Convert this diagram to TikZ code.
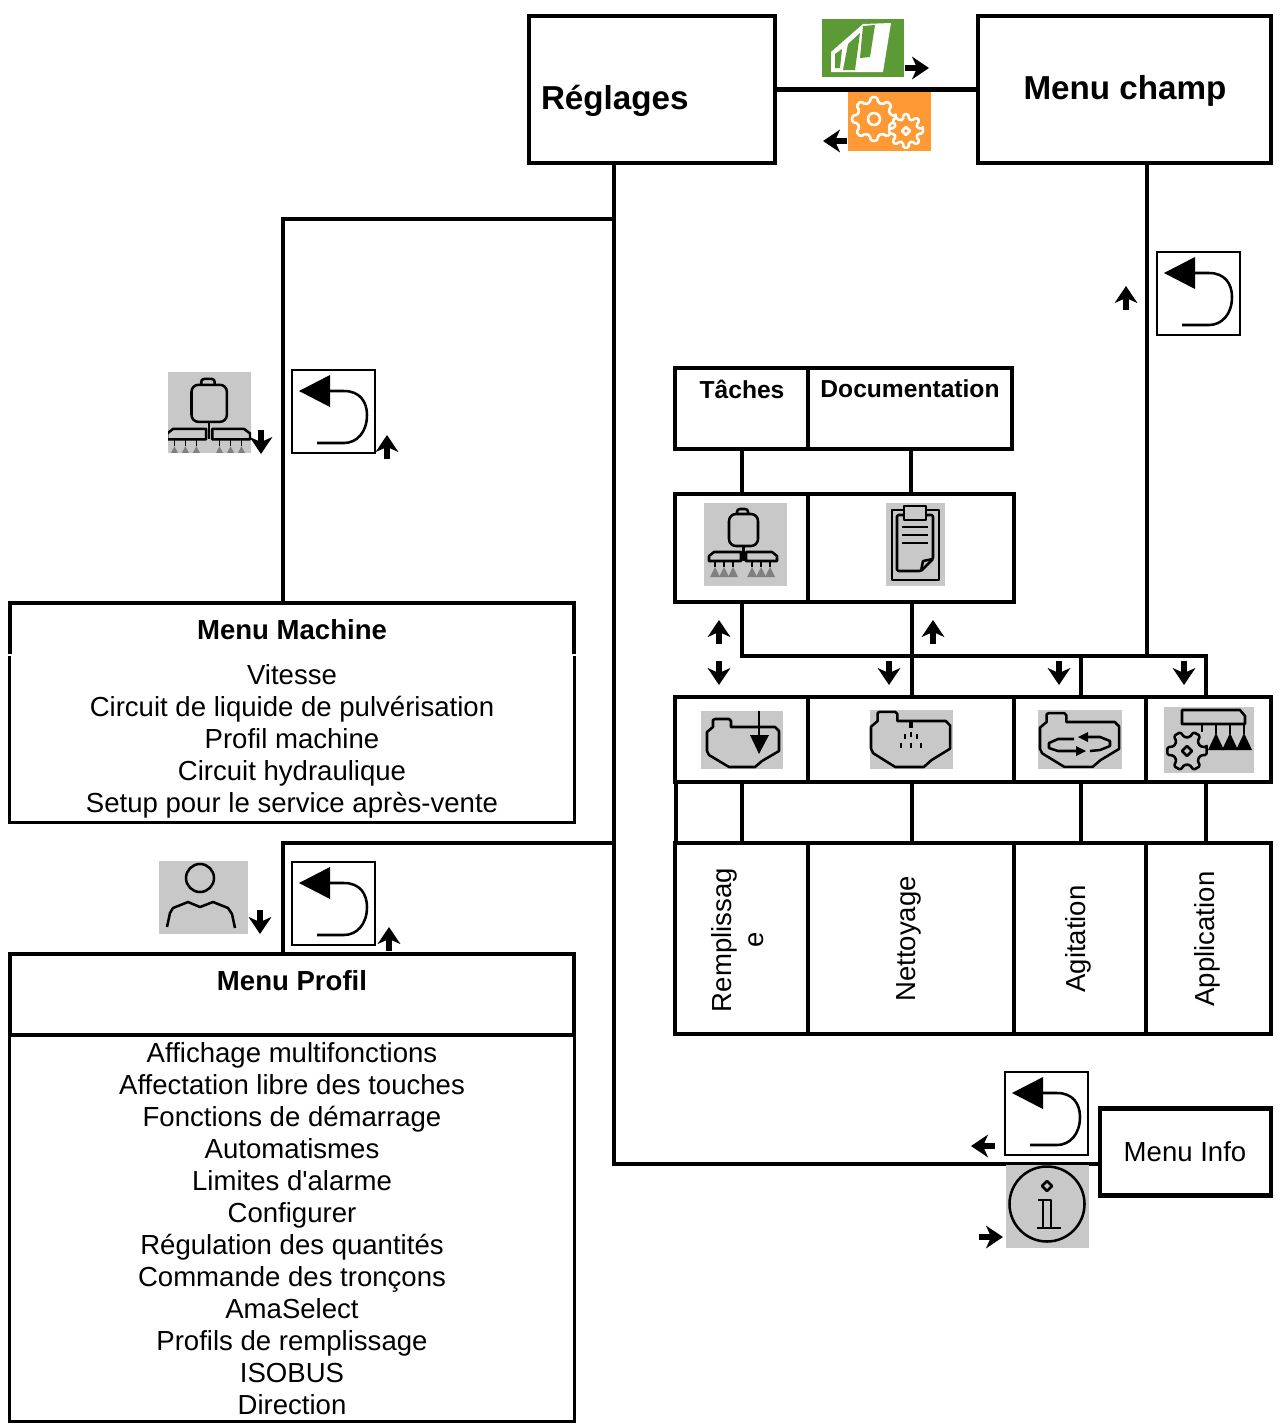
\documentclass[tikz,border=0pt]{standalone}
\usepackage{fontspec}
\setmainfont{Liberation Sans}[Ligatures=TeXOff]
\usetikzlibrary{arrows.meta}
\definecolor{icongray}{HTML}{C8C8C8}
\definecolor{fieldgreen}{HTML}{5C9A36}
\definecolor{gearorange}{HTML}{FF9933}
\newcommand{\gearpath}[3]{(-.18*#1:#2) \foreach \a in {0,#1,...,359} {-- (\a-.18*#1:#2) -- (\a+.18*#1:#2) -- (\a+.32*#1:#3) -- (\a+.68*#1:#3)} -- cycle}
\tikzset{
	main/.style={line width=3.4pt},
	thin line/.style={line width=2.1pt},
	stroke/.style={line width=1.8pt,line join=round},
	bodytext/.style={font=\fontsize{19.6}{22.76}\selectfont},
	boldtext/.style={font=\fontsize{19.6}{22.76}\selectfont\bfseries},
	tabletext/.style={font=\fontsize{17.5}{21}\selectfont\bfseries},
	bigtext/.style={font=\fontsize{23.6}{28}\selectfont\bfseries},
	cell/.style={draw,main,inner sep=0pt,outer sep=0pt},
	hollow/.style={inner sep=0pt,outer sep=0pt},
	tinyarrow/.pic={\draw[line width=3.6pt,-{Stealth[length=12pt,width=16pt,inset=3.5pt]}] (0,0) -- (24,0);},
	backkey/.pic={
		\draw[line width=1.6pt] (0,0) rectangle (83,83);
		\fill (7,21) -- (38,5) -- (38,37) -- cycle;
		\draw[stroke] (38,21) -- (52,21) .. controls (68,21) and (75,32) .. (75,45) .. controls (75,62) and (65,73) .. (52,73) -- (25,73);
	},
	sprayer/.pic={
		\fill[icongray] (0,0) rectangle (83,83);
		\draw[stroke,rounded corners=2pt] (33,11) -- (33,6) -- (44,6) -- (44,11);
		\draw[stroke,rounded corners=5pt] (25,11) rectangle (54,43);
		\draw[stroke] (39.5,43) -- (39.5,58);
		\draw[stroke] (5,58) -- (5,53) -- (10,49) -- (37,49) -- (37,58) -- cycle;
		\draw[stroke] (42,58) -- (42,49) -- (68,49) -- (73,53) -- (73,58) -- cycle;
		\foreach \nx in {11,20,29,48,57,66} {
			\draw[line width=.9pt] (\nx,58) -- (\nx,64);
			\fill[black!50] (\nx,64) -- (\nx-5,74) -- (\nx+5,74) -- cycle;
		}
	},
	tankshape/.pic={
		\draw[stroke] (6,0) -- (6,-7) -- (8,-8) -- (22,-8) -- (24,-6) -- (24,0) -- (68,0) -- (72,4) -- (72,24) -- (55,34) -- (48,40) -- (22,40) -- (2,28) -- (0,24) -- (0,5) -- cycle;
	},
	tankfill/.pic={
		\fill[icongray] (0,0) rectangle (82,58);
		\pic at (6,16) {tankshape};
		\draw[stroke] (58,0) -- (58,25);
		\fill (49,24) -- (68,24) -- (58,43) -- cycle;
	},
	tankspray/.pic={
		\fill[icongray] (0,0) rectangle (83,59);
		\begin{scope}[shift={(1,11)},xscale=1.1,yscale=1.15]
			\pic[transform shape] at (0,0) {tankshape};
		\end{scope}
		\draw[line width=3pt] (41,11) -- (41,18);
		\foreach \dx/\dy in {35/24,41/22,47/24,31/33,41/33,51/33} {
			\draw[line width=1.5pt] (\dx,\dy) -- (\dx,\dy+5);
		}
	},
	tankcycle/.pic={
		\fill[icongray] (0,0) rectangle (84,59);
		\begin{scope}[shift={(2,12)},xscale=1.1,yscale=1.12]
			\pic[transform shape] at (0,0) {tankshape};
		\end{scope}
		\draw[stroke] (48,27) -- (62,27) -- (72,31) -- (72,36) -- (62,40) -- (52,41);
		\draw[stroke] (36,29) -- (20,29) -- (11,33) -- (11,38) -- (20,41) -- (38,41);
		\fill (40,27) -- (50,22) -- (50,32) -- cycle;
		\fill (48,41) -- (38,36) -- (38,46) -- cycle;
	},
	gearboom/.pic={
		\fill[icongray] (0,0) rectangle (90,66);
		\draw[stroke] (18,3) -- (76,3) -- (81,9) -- (81,17) -- (18,17) -- cycle;
		\foreach \tx in {52,66,80} {
			\draw[stroke] (\tx,17) -- (\tx,27);
			\fill (\tx,26) -- (\tx-8,43) -- (\tx+8,43) -- cycle;
		}
		\draw[stroke] (38,17) -- (38,25);
		\draw[stroke,rounded corners=1pt,shift={(23,44)}] \gearpath{60}{20}{14};
		\draw[stroke] (23,39) -- (28,44) -- (23,49) -- (18,44) -- cycle;
	},
	clipboard/.pic={
		\fill[icongray] (0,0) rectangle (59,83);
		\draw[stroke] (6,7) rectangle (53,77);
		\draw[stroke,rounded corners=1pt] (11,12) -- (47,12) -- (47,56) -- (35,68) -- (11,68) -- cycle;
		\draw[stroke,fill=icongray] (18,3) rectangle (40,17);
		\draw[stroke] (35,68) -- (37,58) -- (47,56);
		\foreach \ly in {24,32,40} {\draw[stroke] (16,\ly) -- (42,\ly);}
	},
	usericon/.pic={
		\fill[icongray] (0,0) rectangle (89,73);
		\draw[stroke] (41,17) circle[radius=14];
		\draw[stroke] (8,66) -- (11,52) -- (14,47) -- (29,41) -- (41,46) -- (54,41) -- (69,47) -- (73,53) -- (76,67);
	},
	infoicon/.pic={
		\fill[icongray] (0,0) rectangle (83,83);
		\draw[stroke] (41,39) circle[radius=37.5];
		\draw[stroke] (41,16) -- (46,21) -- (41,26) -- (36,21) -- cycle;
		\draw[stroke] (32,35) -- (45,35) -- (45,63);
		\draw[stroke] (37,35) -- (37,63);
		\draw[stroke] (31,63) -- (55,63);
	},
}
\begin{document}
\begin{tikzpicture}[x=0.025cm,y=-0.025cm]
	\useasboundingbox (0,0) rectangle (1285,1428);

	\node[cell,minimum width=6.15cm,minimum height=3.675cm] (reglages) at (652,89.5) {};
	\node[hollow,bigtext,anchor=west] (reglagestxt) at (541,101) {Réglages};
	\node[cell,minimum width=7.325cm,minimum height=3.675cm] (champ) at (1124.5,89.5) {};
	\node[hollow,bigtext] (champtxt) at (1125,91) {Menu champ};
	\node[cell,minimum width=4.275cm,minimum height=2.175cm] (info) at (1185.5,1152) {};
	\node[hollow,bodytext] (infotxt) at (1185,1152) {Menu Info};

	\node[hollow,minimum width=14.1cm,minimum height=1.275cm] (machinehead) at (292,628.5) {};
	\node[hollow,minimum width=14.1cm,minimum height=4.15cm] (machinebody) at (292,739) {};
	\node[hollow,boldtext] (machinetxt) at (292,630) {Menu Machine};
	\node[hollow,bodytext,align=center] (machinelist) at (292,741) {Vitesse\\Circuit de liquide de pulvérisation\\Profil machine\\Circuit hydraulique\\Setup pour le service après-vente};

	\node[cell,minimum width=14.1cm,minimum height=2.025cm] (profilhead) at (292,994.5) {};
	\node[hollow,minimum width=14.1cm,minimum height=9.65cm] (profilbody) at (292,1228) {};
	\node[hollow,boldtext] (profiltxt) at (292,981) {Menu Profil};
	\node[hollow,bodytext,align=center] (profillist) at (292,1229) {Affichage multifonctions\\Affectation libre des touches\\Fonctions de démarrage\\Automatismes\\Limites d'alarme\\Configurer\\Régulation des quantités\\Commande des tronçons\\AmaSelect\\Profils de remplissage\\ISOBUS\\Direction};

	\node[cell,minimum width=3.325cm,minimum height=2.025cm] (taches) at (741.5,408.5) {};
	\node[cell,minimum width=5.1cm,minimum height=2.025cm] (docu) at (910,408.5) {};
	\node[hollow,tabletext] (tachestxt) at (742,389) {Tâches};
	\node[hollow,tabletext] (docutxt) at (910,389) {Documentation};
	\node[cell,minimum width=3.325cm,minimum height=2.7cm] (machinekey) at (741.5,548) {};
	\node[cell,minimum width=5.15cm,minimum height=2.7cm] (docukey) at (911,548) {};

	\node[cell,minimum width=3.325cm,minimum height=2.125cm] (fillkey) at (741.5,739.5) {};
	\node[cell,minimum width=5.15cm,minimum height=2.125cm] (cleankey) at (911,739.5) {};
	\node[cell,minimum width=3.3cm,minimum height=2.125cm] (stirkey) at (1080,739.5) {};
	\node[cell,minimum width=3.125cm,minimum height=2.125cm] (applykey) at (1208.5,739.5) {};

	\node[cell,minimum width=3.325cm,minimum height=4.775cm] (fillcell) at (741.5,938.5) {};
	\node[cell,minimum width=5.15cm,minimum height=4.775cm] (cleancell) at (911,938.5) {};
	\node[cell,minimum width=3.3cm,minimum height=4.775cm] (stircell) at (1080,938.5) {};
	\node[cell,minimum width=3.125cm,minimum height=4.775cm] (applycell) at (1208.5,938.5) {};
	\node[hollow,bodytext,rotate=90,align=center] (filltxt) at (738,940) {Remplissag\\e};
	\node[hollow,bodytext,rotate=90] (cleantxt) at (909,939) {Nettoyage};
	\node[hollow,bodytext,rotate=90] (stirtxt) at (1078,939) {Agitation};
	\node[hollow,bodytext,rotate=90] (applytxt) at (1207,939) {Application};

	\draw[main] (machinehead.south west) -- (machinehead.north west) -- (machinehead.north east) -- (machinehead.south east);
	\draw[thin line] (machinebody.north west) -- (machinebody.south west) -- (machinebody.south east) -- (machinebody.north east);
	\draw[thin line] (profilbody.north west) -- (profilbody.south west) -- (profilbody.south east) -- (profilbody.north east);

	\coordinate (trunktop) at (614,163);
	\coordinate (machineturn) at (614,219);
	\coordinate (machinecorner) at (283,219);
	\coordinate (machineend) at (283,603);
	\coordinate (profilturn) at (614,843);
	\coordinate (profilcorner) at (283,843);
	\coordinate (profilend) at (283,953);
	\coordinate (trunkbottom) at (614,1164);
	\coordinate (infoend) at (1099,1164);
	\coordinate (fieldtop) at (1147,163);
	\coordinate (busleft) at (742,656);
	\coordinate (busmid) at (912,656);
	\coordinate (busstir) at (1081,656);
	\coordinate (busfield) at (1147,656);
	\coordinate (busright) at (1206,656);

	\draw[main] (reglages) -- (champ);
	\draw[main] (trunktop) -- (trunkbottom) -- (infoend);
	\draw[main] (machineturn) -- (machinecorner) -- (machineend);
	\draw[main] (profilturn) -- (profilcorner) -- (profilend);
	\draw[main] (fieldtop) -- (busfield);
	\draw[main] (742,449) -- (742,494);
	\draw[main] (911,449) -- (911,494);
	\draw[main] (742,602) -- (busleft) -- (busright) -- (1206,697);
	\draw[main] (912,602) -- (912,697);
	\draw[main] (busstir) -- (1081,697);
	\draw[main] (676,782) -- (676,843);
	\draw[main] (742,782) -- (742,843);
	\draw[main] (912,782) -- (912,843);
	\draw[main] (1081,782) -- (1081,843);
	\draw[main] (1206,782) -- (1206,843);

	\fill[fieldgreen] (822,19) rectangle (904,77);
	\begin{scope}[shift={(822,19)}]
		\fill[white] (9,53) -- (9,33) -- (41,5) -- (69,4) -- (61,53) -- cycle;
		\fill[fieldgreen] (13,49) -- (13,35) -- (20,30) -- (18,49) -- cycle;
		\fill[fieldgreen] (21,51) -- (26,25) -- (38,14) -- (33,51) -- cycle;
		\fill[fieldgreen] (41,7) -- (53,6) -- (48,38) -- (38,39) -- cycle;
	\end{scope}
	\fill[gearorange] (848,92) rectangle (931,151);
	\begin{scope}[shift={(848,92)}]
		\draw[white,stroke,rounded corners=1pt,shift={(26,27)}] \gearpath{45}{22}{17};
		\draw[white,stroke] (26,27) circle[radius=6];
		\draw[white,stroke,rounded corners=1pt,fill=gearorange,shift={(58,39)}] \gearpath{45}{17}{12};
		\draw[white,stroke] (58,35) -- (62,39) -- (58,43) -- (54,39) -- cycle;
	\end{scope}

	\begin{scope}[shift={(168,370)}]
		\clip (0,0) rectangle (83,82);
		\begin{scope}[shift={(-7,2)},xscale=1.22,yscale=1.16]
			\pic[transform shape] at (0,0) {sprayer};
		\end{scope}
	\end{scope}
	\pic at (292,370) {backkey};
	\pic at (1157,252) {backkey};
	\pic at (292,862) {backkey};
	\pic at (1005,1072) {backkey};
	\pic at (704,503) {sprayer};
	\pic at (886,503) {clipboard};
	\pic at (701,711) {tankfill};
	\pic at (870,710) {tankspray};
	\pic at (1038,710) {tankcycle};
	\pic at (1164,707) {gearboom};
	\pic at (159,861) {usericon};
	\pic at (1006,1165) {infoicon};

	\pic at (905,68) {tinyarrow};
	\pic[rotate=180] at (847,141) {tinyarrow};
	\pic[rotate=90] at (1126,310) {tinyarrow};
	\pic[rotate=-90] at (261,430) {tinyarrow};
	\pic[rotate=90] at (387,459) {tinyarrow};
	\pic[rotate=90] at (719,644) {tinyarrow};
	\pic[rotate=90] at (933,644) {tinyarrow};
	\pic[rotate=-90] at (719,661) {tinyarrow};
	\pic[rotate=-90] at (889,661) {tinyarrow};
	\pic[rotate=-90] at (1059,661) {tinyarrow};
	\pic[rotate=-90] at (1184,661) {tinyarrow};
	\pic[rotate=-90] at (260,910) {tinyarrow};
	\pic[rotate=90] at (389,951) {tinyarrow};
	\pic[rotate=180] at (995,1146) {tinyarrow};
	\pic at (979,1237) {tinyarrow};
\end{tikzpicture}
\end{document}
